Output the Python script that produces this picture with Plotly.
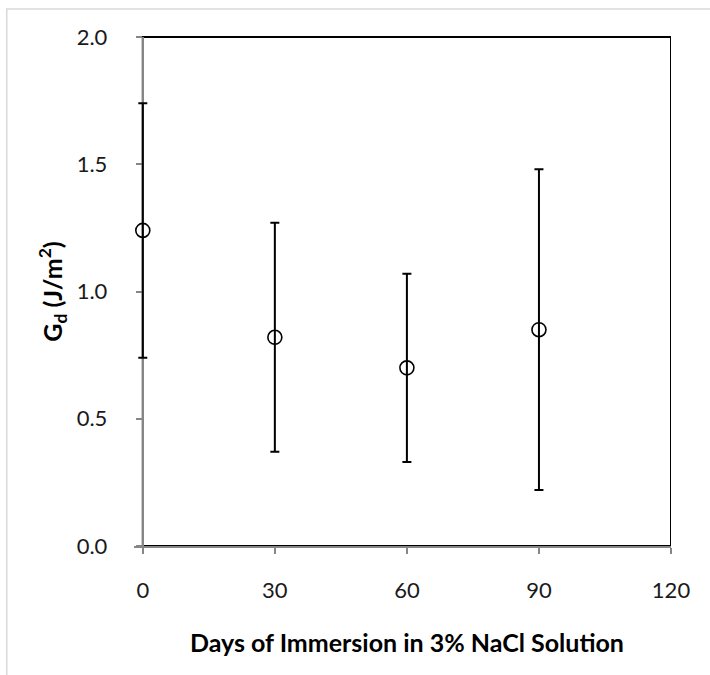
import plotly.graph_objects as go

# Fracture energy after immersion in saline solution
days = [0, 30, 60, 90]
gd_mean = [1.24, 0.82, 0.70, 0.85]
gd_err = [0.50, 0.45, 0.37, 0.63]

x_ticks = [0, 30, 60, 90, 120]
y_ticks = [0.0, 0.5, 1.0, 1.5, 2.0]
y_tick_labels = ["0.0", "0.5", "1.0", "1.5", "2.0"]

# a little room left of day 0 so the first error bar is not clipped
X_PAD = 2.0
X_MAX = 120

FONT = "Lato"
AXIS_GRAY = "#868686"

W, H = 710, 675
PLOT_LEFT, PLOT_RIGHT, PLOT_TOP, PLOT_BOTTOM = 143, 671, 37, 546

fig = go.Figure()

fig.add_trace(go.Scatter(
    x=days,
    y=gd_mean,
    mode="markers",
    marker=dict(symbol="circle-open", size=14, color="black",
                line=dict(width=1.6, color="black")),
    error_y=dict(type="data", array=gd_err, visible=True,
                 color="black", thickness=2, width=4.5),
    cliponaxis=False,
    showlegend=False,
))

px_per_day = (PLOT_RIGHT - PLOT_LEFT) / X_MAX
left_margin = PLOT_LEFT - X_PAD * px_per_day
area_w = PLOT_RIGHT - left_margin
area_h = PLOT_BOTTOM - PLOT_TOP
y_axis_pos = X_PAD / (X_MAX + X_PAD)


def paper_x(px):
    return (px - left_margin) / area_w


def paper_y(py):
    return (PLOT_BOTTOM - py) / area_h


fig.update_layout(
    width=W,
    height=H,
    margin=dict(l=left_margin, r=W - PLOT_RIGHT, t=PLOT_TOP, b=H - PLOT_BOTTOM),
    paper_bgcolor="white",
    plot_bgcolor="white",
    font=dict(family=FONT, size=22, color="#1a1a1a"),
    xaxis=dict(
        range=[-X_PAD, X_MAX],
        tickvals=x_ticks,
        ticktext=[str(v) for v in x_ticks],
        showgrid=False,
        zeroline=False,
        showline=True,
        linecolor=AXIS_GRAY,
        linewidth=2,
        layer="below traces",
        ticks="outside",
        ticklen=6,
        tickwidth=2,
        tickcolor=AXIS_GRAY,
        ticklabelstandoff=18,
        tickfont=dict(family=FONT, size=22),
    ),
    yaxis=dict(
        range=[0, 2.0],
        anchor="free",
        position=y_axis_pos,
        tickvals=y_ticks,
        ticktext=y_tick_labels,
        showgrid=False,
        zeroline=False,
        showline=True,
        linecolor=AXIS_GRAY,
        linewidth=2,
        layer="below traces",
        ticks="outside",
        ticklen=6,
        tickwidth=2,
        tickcolor=AXIS_GRAY,
        ticklabelstandoff=24,
        tickfont=dict(family=FONT, size=22),
        title=dict(text="G<sub>d</sub> (J/m<sup>2</sup>)",
                   font=dict(family=FONT, size=25, weight="bold", color="black"),
                   standoff=6),
    ),
    annotations=[
        dict(text="Days of Immersion in 3% NaCl Solution",
             xref="paper", yref="paper",
             x=paper_x((PLOT_LEFT + PLOT_RIGHT) / 2), y=paper_y(642),
             xanchor="center", yanchor="middle", showarrow=False,
             font=dict(family=FONT, size=25, weight="bold", color="black")),
    ],
    shapes=[
        # black plot-area frame (top and right edges visible)
        dict(type="rect", xref="x", yref="paper", x0=0, x1=X_MAX, y0=0, y1=1,
             line=dict(color="black", width=2), layer="below"),
        # light outer frame of the chart
        dict(type="rect", xref="paper", yref="paper",
             x0=paper_x(7), x1=paper_x(W + 20), y0=paper_y(H + 20), y1=paper_y(9),
             line=dict(color="#d9d9d9", width=1.5), layer="below"),
    ],
)

fig.write_html("out.html")
